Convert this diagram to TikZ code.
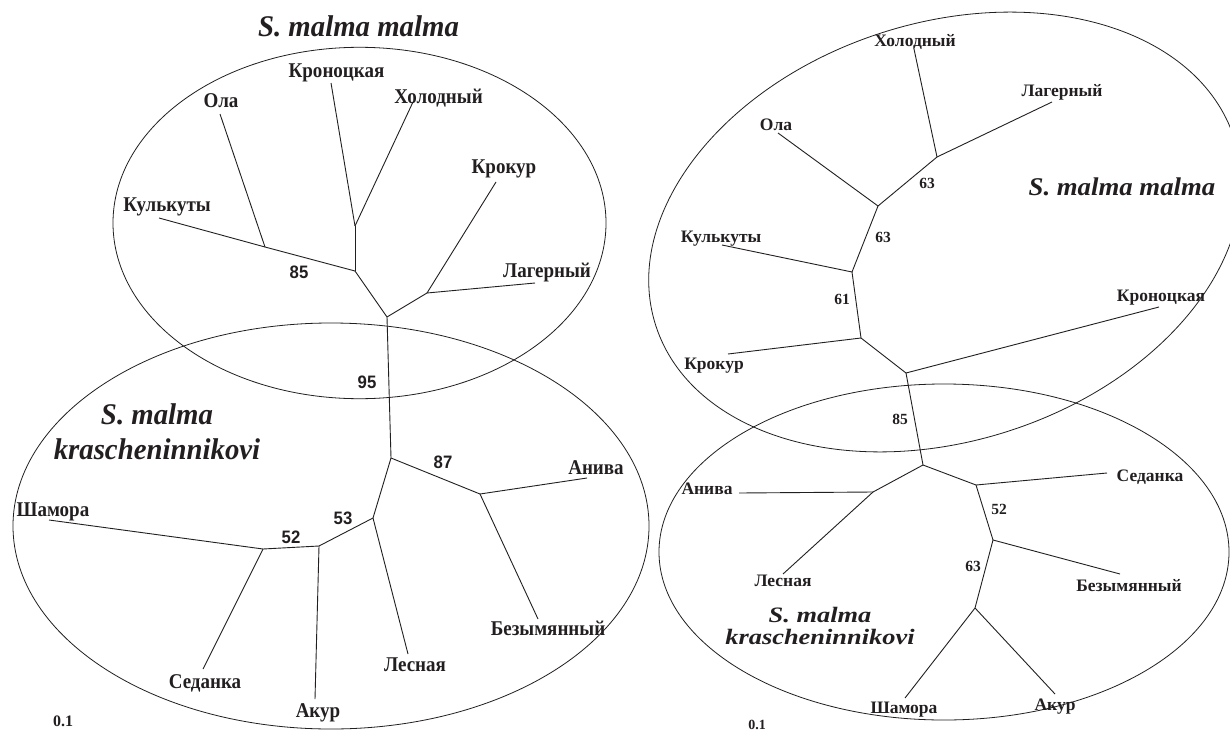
\documentclass[tikz,border=0pt]{standalone}
\usepackage{fontspec}
\setmainfont{Liberation Serif}
\newfontfamily\fLbl[FakeStretch=0.905]{Liberation Serif}
\newfontfamily\fNum[FakeStretch=0.93]{Liberation Sans}
\newfontfamily\fTtlL[FakeStretch=0.96]{Liberation Serif}
\newfontfamily\fTtlRa[FakeStretch=1.05]{Liberation Serif}
\newfontfamily\fTtlRb[FakeStretch=1.2]{Liberation Serif}
\definecolor{ink}{RGB}{35,31,32}
\begin{document}
\begin{tikzpicture}[x=1pt,y=-1pt,
  branch/.style={draw=ink,line width=0.9pt,line join=round},
  clade/.style={draw=ink,line width=0.8pt},
  lblL/.style={font=\fLbl\bfseries\fontsize{21}{23}\selectfont,text=ink,inner sep=0pt,anchor=base},
  numL/.style={font=\fNum\bfseries\fontsize{18}{20}\selectfont,text=ink,inner sep=0pt},
  lblR/.style={font=\bfseries\fontsize{17.5}{20}\selectfont,text=ink,inner sep=0pt,anchor=base},
  numR/.style={font=\bfseries\fontsize{15.5}{18}\selectfont,text=ink,inner sep=0pt},
  ttlL/.style={font=\fTtlL\bfseries\itshape\fontsize{30}{35}\selectfont,text=ink,inner sep=0pt,align=center},
  ttlRa/.style={font=\fTtlRa\bfseries\itshape\fontsize{25.5}{28}\selectfont,text=ink,inner sep=0pt},
  ttlRb/.style={font=\fTtlRb\bfseries\itshape\fontsize{22}{22}\selectfont,text=ink,inner sep=0pt,align=center}]
\useasboundingbox (0,0) rectangle (1230,733);
\clip (0,0) rectangle (1230,733);
\fill[white] (0,0) rectangle (1230,733);

% ---------- left panel: clade ellipses ----------
\draw[clade] (359.5,223) ellipse [x radius=246.5pt, y radius=175.7pt];
\draw[clade] (331,526) ellipse [x radius=318pt, y radius=203pt];

% ---------- left tree ----------
\coordinate (A) at (355,226);
\coordinate (B) at (355,271);
\coordinate (C) at (265,247);
\coordinate (D) at (387,317);
\coordinate (E) at (427,293);
\coordinate (F) at (391,458);
\coordinate (G) at (480,494);
\coordinate (H) at (373,518);
\coordinate (I) at (319,546);
\coordinate (J) at (263,549);
\coordinate (lKro) at (331,83);
\coordinate (lHol) at (413,102);
\coordinate (lOla) at (220,114);
\coordinate (lKul) at (159,218);
\coordinate (lKrk) at (496,182);
\coordinate (lLag) at (535,283);
\coordinate (lAni) at (587,478);
\coordinate (lBez) at (538,619);
\coordinate (lLes) at (408,654);
\coordinate (lAku) at (315,699);
\coordinate (lSha) at (49,520);
\coordinate (lSed) at (203,669);
\draw[branch] (A) -- (lKro);
\draw[branch] (A) -- (lHol);
\draw[branch] (A) -- (B);
\draw[branch] (B) -- (C);
\draw[branch] (C) -- (lOla);
\draw[branch] (C) -- (lKul);
\draw[branch] (B) -- (D);
\draw[branch] (D) -- (E);
\draw[branch] (E) -- (lKrk);
\draw[branch] (E) -- (lLag);
\draw[branch] (D) -- (F);
\draw[branch] (F) -- (G);
\draw[branch] (G) -- (lAni);
\draw[branch] (G) -- (lBez);
\draw[branch] (F) -- (H);
\draw[branch] (H) -- (lLes);
\draw[branch] (H) -- (I);
\draw[branch] (I) -- (lAku);
\draw[branch] (I) -- (J);
\draw[branch] (J) -- (lSha);
\draw[branch] (J) -- (lSed);

\node[lblL] (tKroL) at (336.5,78) {Кроноцкая};
\node[lblL] (tHolL) at (438.5,103) {Холодный};
\node[lblL] (tOlaL) at (221,108) {Ола};
\node[lblL] (tKulL) at (167,211) {Кулькуты};
\node[lblL] (tKrkL) at (504,173) {Крокур};
\node[lblL] (tLagL) at (547,277) {Лагерный};
\node[lblL] (tAniL) at (596,474) {Анива};
\node[lblL] (tBezL) at (548,635) {Безымянный};
\node[lblL] (tLesL) at (415,671) {Лесная};
\node[lblL] (tAkuL) at (318,717) {Акур};
\node[lblL] (tShaL) at (53,516) {Шамора};
\node[lblL] (tSedL) at (205,688) {Седанка};

\node[numL] (b85L) at (299,272) {85};
\node[numL] (b95L) at (367,382) {95};
\node[numL] (b87L) at (443,462) {87};
\node[numL] (b53L) at (343,518) {53};
\node[numL] (b52L) at (291,537) {52};
\node[font=\bfseries\fontsize{16}{18}\selectfont,text=ink,inner sep=0pt] (scaleL) at (63,721) {0.1};

\node[ttlL,anchor=base] (ttlMalmaL) at (358.5,37) {S. malma malma};
\node[ttlL,anchor=north] (ttlKrasL) at (157,403) {S. malma\\krascheninnikovi};

% ---------- right panel: clade ellipses ----------
\begin{scope}[shift={(945,232)},rotate=18]
\draw[clade] (0,0) ellipse [x radius=304pt, y radius=209pt];
\end{scope}
\draw[clade] (944,552) ellipse [x radius=285pt, y radius=168pt];

% ---------- right tree ----------
\coordinate (K1) at (937,157);
\coordinate (K2) at (878,206);
\coordinate (K3) at (852,272);
\coordinate (K4) at (861,338);
\coordinate (K5) at (906,373);
\coordinate (R1) at (923,465);
\coordinate (R2) at (873,492);
\coordinate (R3) at (976,485);
\coordinate (R4) at (993,540);
\coordinate (R5) at (975,608);
\coordinate (rHol) at (914,49);
\coordinate (rLag) at (1052,102);
\coordinate (rOla) at (778,133);
\coordinate (rKul) at (722,245);
\coordinate (rKrk) at (728,354);
\coordinate (rKro) at (1159,307);
\coordinate (rAni) at (739,493);
\coordinate (rLes) at (783,574);
\coordinate (rSed) at (1107,473);
\coordinate (rBez) at (1120,574);
\coordinate (rSha) at (905,698);
\coordinate (rAku) at (1055,694);
\draw[branch] (K1) -- (rHol);
\draw[branch] (K1) -- (rLag);
\draw[branch] (K1) -- (K2);
\draw[branch] (K2) -- (rOla);
\draw[branch] (K2) -- (K3);
\draw[branch] (K3) -- (rKul);
\draw[branch] (K3) -- (K4);
\draw[branch] (K4) -- (rKrk);
\draw[branch] (K4) -- (K5);
\draw[branch] (K5) -- (rKro);
\draw[branch] (K5) -- (R1);
\draw[branch] (R1) -- (R2);
\draw[branch] (R2) -- (rAni);
\draw[branch] (R2) -- (rLes);
\draw[branch] (R1) -- (R3);
\draw[branch] (R3) -- (rSed);
\draw[branch] (R3) -- (R4);
\draw[branch] (R4) -- (rBez);
\draw[branch] (R4) -- (R5);
\draw[branch] (R5) -- (rSha);
\draw[branch] (R5) -- (rAku);

\node[lblR] (tHolR) at (915,47) {Холодный};
\node[lblR] (tLagR) at (1062,97) {Лагерный};
\node[lblR] (tOlaR) at (776,130) {Ола};
\node[lblR] (tKulR) at (721,242) {Кулькуты};
\node[lblR] (tKrkR) at (714,369) {Крокур};
\node[lblR] (tKroR) at (1161,301) {Кроноцкая};
\node[lblR] (tAniR) at (707,494) {Анива};
\node[lblR] (tLesR) at (783,586) {Лесная};
\node[lblR] (tSedR) at (1150,481) {Седанка};
\node[lblR] (tBezR) at (1129,591) {Безымянный};
\node[lblR] (tShaR) at (904,713) {Шамора};
\node[lblR] (tAkuR) at (1055,710) {Акур};

\node[numR] (b63aR) at (927,183) {63};
\node[numR] (b63bR) at (883,237) {63};
\node[numR] (b61R) at (842,299) {61};
\node[numR] (b85R) at (900,419) {85};
\node[numR] (b52R) at (999,509) {52};
\node[numR] (b63cR) at (973,566) {63};
\node[font=\bfseries\fontsize{14}{16}\selectfont,text=ink,inner sep=0pt] (scaleR) at (757,725) {0.1};

\node[ttlRa,anchor=base] (ttlMalmaR) at (1122,195) {S. malma malma};
\node[ttlRb,anchor=north] (ttlKrasR) at (820,607) {S. malma\\krascheninnikovi};
\end{tikzpicture}
\end{document}
